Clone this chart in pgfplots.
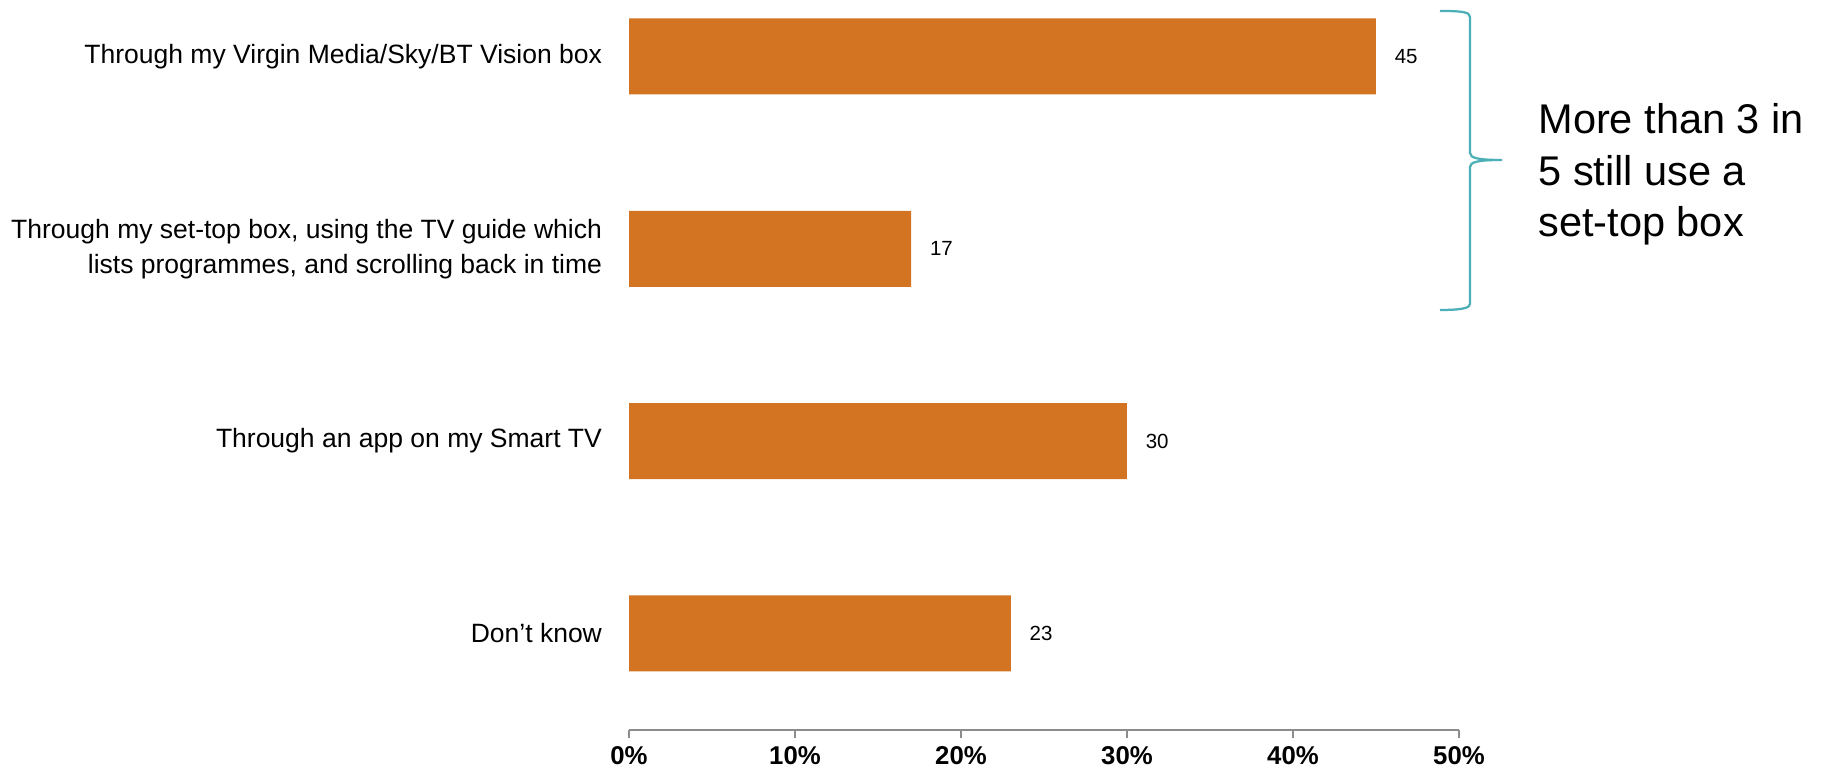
\documentclass[border=0pt]{standalone}
\usepackage{pgfplots}
\pgfplotsset{compat=1.18}
\usepackage{fontspec}
\setmainfont{Liberation Sans}
\definecolor{barorange}{HTML}{D37423}
\definecolor{braceteal}{HTML}{4BAFB5}
\definecolor{axisgray}{HTML}{8C8C8C}
\begin{document}
\begin{tikzpicture}
\path[use as bounding box] (0,0) rectangle (730.4pt,309.2pt);
\begin{axis}[
  at={(251.6pt,17.2pt)}, anchor=south west,
  scale only axis, width=332pt, height=288.64pt,
  xbar, bar width=30.4pt,
  xmin=0, xmax=50, ymin=-0.25, ymax=3.502, y dir=reverse,
  axis x line=bottom, axis y line=left,
  x axis line style={-, draw=axisgray, line width=0.8pt},
  y axis line style={draw=none},
  xtick={0,10,20,30,40,50},
  xticklabels={0\%,10\%,20\%,30\%,40\%,50\%},
  xticklabel style={font=\fontsize{10.3}{12}\selectfont\bfseries},
  tick align=outside,
  major tick length=3.2pt,
  x tick style={draw=axisgray, line width=0.8pt},
  ytick={0,1,2,3},
  yticklabels={Through my Virgin Media/Sky/BT Vision box,{Through my set-top box, using the TV guide which\\lists programmes, and scrolling back in time},Through an app on my Smart TV,Don’t know},
  y tick style={draw=none},
  yticklabel style={font=\fontsize{10.6}{14}\selectfont, align=right, xshift=-4.1pt},
  point meta=x,
  nodes near coords={\pgfmathprintnumber[assume math mode=true]{\pgfplotspointmeta}},
  nodes near coords style={font=\fontsize{8.2}{10}\selectfont, anchor=west, xshift=4pt, text=black},
  clip=false,
]
\addplot[fill=barorange, draw=none] coordinates {(45,0) (17,1) (30,2) (23,3)};
\end{axis}
\begin{scope}[x=0.4pt, y=-0.4pt, shift={(0pt,309.2pt)}]
\draw[braceteal, line width=0.9pt] (1440,11) .. controls (1462,11) and (1470,12) .. (1470,17) -- (1470,153) .. controls (1470,158) and (1478,160) .. (1502,160) .. controls (1478,160) and (1470,162) .. (1470,167) -- (1470,304) .. controls (1470,308) and (1462,310) .. (1440,310);
\node[anchor=base west, inner sep=0pt, font=\fontsize{16.6}{20}\selectfont] at (1538,134) {More than 3 in};
\node[anchor=base west, inner sep=0pt, font=\fontsize{16.6}{20}\selectfont] at (1538,186) {5 still use a};
\node[anchor=base west, inner sep=0pt, font=\fontsize{16.6}{20}\selectfont] at (1538,237) {set-top box};
\end{scope}
\end{tikzpicture}
\end{document}
